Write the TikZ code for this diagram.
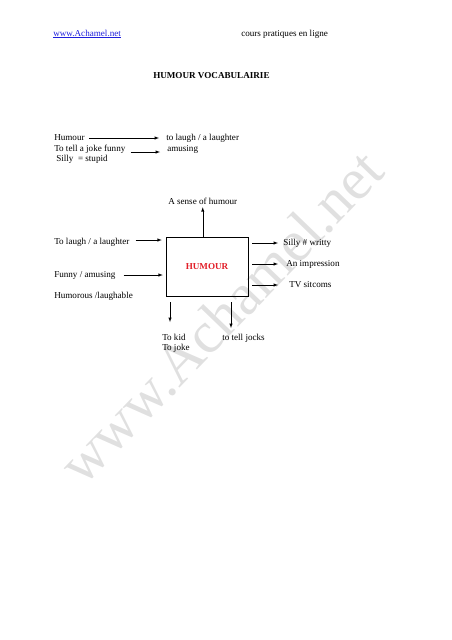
\documentclass[tikz,border=0pt]{standalone}
\usepackage{fontspec}
\setmainfont{Liberation Serif}
\usepackage{xcolor}
\usepackage{tikz}
\usetikzlibrary{positioning,calc}
\usetikzlibrary{arrows}
\tikzstyle{line} = [-latex]
\tikzstyle{word} = [inner sep=0pt,anchor=base west,text height=6pt,text depth=2pt]
\definecolor{humred}{RGB}{225,30,40}
\definecolor{linkblue}{RGB}{30,30,220}

\begin{document}
\begin{tikzpicture}[x=1pt,y=-1pt,line width=0.5pt,font=\fontsize{9.1}{11}\selectfont]
        \useasboundingbox (0,0) rectangle (452,640);
        \node[text=black!12,font=\fontsize{58.7}{60}\selectfont,rotate=46,anchor=base,inner sep=0pt] (wm) at (235,331) {www.Achamel.net};

        \node[word,text=linkblue] (site) at (53,36) {\underline{www.Achamel.net}};
        \node[word] (cours) at (241,36) {cours pratiques en ligne};
        \node[word,font=\fontsize{9.1}{11}\selectfont\bfseries] (title) at (153,78) {HUMOUR VOCABULAIRIE};

        \node[word] (hum) at (54,140) {Humour};
        \node[word] (laugh) at (166,140) {to laugh / a laughter};
        \node[word] (tell) at (54,151) {To tell a joke funny};
        \node[word] (amus) at (167,151) {amusing};
        \node[word] (silly) at (56,161) {Silly~~= stupid};
        \draw[line,shorten <=4pt,shorten >=7pt] (hum.east) -- (hum.east -| laugh.west);
        \draw[line,shorten <=5pt,shorten >=7pt] ([yshift=-3pt]tell.east) -- ([yshift=-3pt]tell.east -| amus.west);

        \node[rectangle,draw,minimum width=82,minimum height=59,inner sep=0pt,
              font=\fontsize{9.1}{11}\selectfont\bfseries,text=humred] (bx) at (207,266.5) {HUMOUR};

        \node[word] (sense) at (168,204) {A sense of humour};
        \node[word] (tol) at (54,244) {To laugh / a laughter};
        \node[word] (funny) at (54,277) {Funny / amusing};
        \node[word] (humor) at (54,298) {Humorous /laughable};
        \node[word] (sil) at (283,245) {Silly \# writty};
        \node[word] (imp) at (286,266) {An impression};
        \node[word] (tv) at (289,287) {TV sitcoms};
        \node[word] (kid) at (162,340) {To kid};
        \node[word] (joke) at (162,350) {To joke};
        \node[word] (jocks) at (222,340) {to tell jocks};
        \coordinate (kidtip) at (170,322);
        \coordinate (jockstip) at (231,328);

        \draw[line,shorten >=1pt] (sense.south |- bx.north) -- (sense.south);
        \draw[line,shorten <=6pt,shorten >=4pt] ([yshift=2pt]tol.east) -- ([yshift=2pt]tol.east -| bx.west);
        \draw[line,shorten <=8pt,shorten >=3pt] (funny.east) -- (funny.east -| bx.west);
        \draw[line,shorten <=4pt,shorten >=5pt] (bx.east |- sil.west) -- (sil.west);
        \draw[line,shorten <=4pt,shorten >=8pt] (bx.east |- imp.west) -- (imp.west);
        \draw[line,shorten <=4pt,shorten >=11pt] (bx.east |- tv.west) -- (tv.west);
        \draw[line,shorten <=6pt] (bx.south -| kidtip) -- (kidtip);
        \draw[line,shorten <=6pt] (bx.south -| jockstip) -- (jockstip);
    \end{tikzpicture}
\end{document}
